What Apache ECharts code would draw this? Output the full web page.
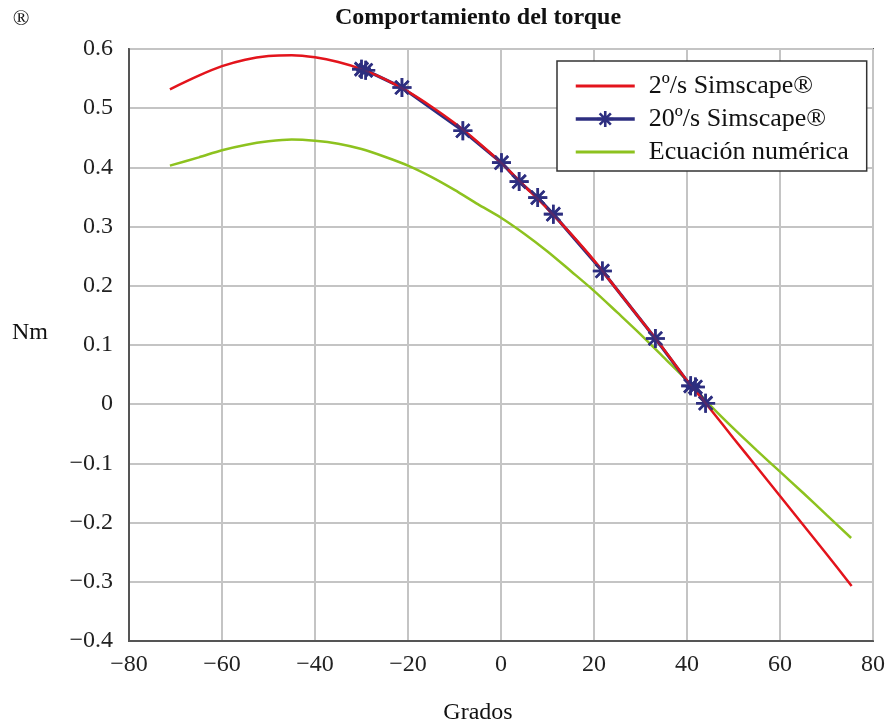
<!DOCTYPE html>
<html>
<head>
<meta charset="utf-8">
<script src="https://cdn.jsdelivr.net/npm/echarts@6/dist/echarts.min.js"></script>
<style>
html,body{margin:0;padding:0;background:#fff;}
#chart{width:888px;height:726px;}
</style>
</head>
<body>
<div id="chart"></div>
<script>
// Data
const seriesNames = ['2º/s Simscape®', '20º/s Simscape®', 'Ecuación numérica'];

const redX = [-71.2, -65, -60, -55, -50, -45, -40, -35, -30, -25, -20, -15, -10, -5, 0, 5, 10, 15, 20, 25, 30, 35, 40, 45, 50, 55, 60, 65, 70, 75.4];
const redY = [0.532, 0.555, 0.571, 0.582, 0.588, 0.5895, 0.586, 0.578, 0.566, 0.549, 0.528, 0.503, 0.475, 0.443, 0.408, 0.369, 0.330, 0.288, 0.243, 0.193, 0.143, 0.093, 0.040, -0.008, -0.0575, -0.106, -0.155, -0.204, -0.253, -0.307];

const blueX = [-30.0, -29.1, -21.3, -8.2, 0.1, 3.9, 7.9, 11.25, 21.8, 33.2, 40.8, 41.8, 44.0];
const blueY = [0.566, 0.564, 0.535, 0.462, 0.408, 0.376, 0.349, 0.321, 0.225, 0.111, 0.031, 0.029, 0.0017];

const greenX = [-71.2, -65, -60, -55, -50, -45, -40, -35, -30, -25, -20, -15, -10, -5, 0, 5, 10, 15, 20, 25, 30, 35, 40, 45, 50, 55, 60, 65, 70, 75.3];
const greenY = [0.403, 0.417, 0.429, 0.438, 0.444, 0.447, 0.445, 0.440, 0.431, 0.418, 0.403, 0.384, 0.362, 0.338, 0.315, 0.288, 0.258, 0.225, 0.1915, 0.155, 0.118, 0.079, 0.040, -0.002, -0.041, -0.078, -0.114, -0.150, -0.187, -0.226];

const xTicks = {min: -80, max: 80, interval: 20};
const yTicks = {min: -0.4, max: 0.6, interval: 0.1};

const zip = (xs, ys) => xs.map((x, i) => [x, ys[i]]);
const FONT = "'Liberation Serif', 'Times New Roman', serif";
const fmtNum = v => {
  const r = Math.round(v * 10) / 10;
  let s = Number.isInteger(v) ? String(Math.round(v)) : r.toFixed(1);
  if (Math.abs(r) < 1e-9) s = '0';
  return s.replace('-', '\u2212');
};
const star = 'path://M0,-10L0,10M-10,0L10,0M-7,-7L7,7M-7,7L7,-7M0,-10Z';
const lineIcon = 'path://M0,0L100,0L100,5L0,5Z';

const RED = '#e3141c', BLUE = '#2d2e80', GREEN = '#8dc21f';

const chart = echarts.init(document.getElementById('chart'));
chart.setOption({
  backgroundColor: '#fff',
  animation: false,
  textStyle: {fontFamily: FONT},
  grid: {left: 129, right: 11, top: 49, bottom: 85, show: true, borderColor: '#555', borderWidth: 2, backgroundColor: 'transparent'},
  xAxis: {
    type: 'value', min: xTicks.min, max: xTicks.max, interval: xTicks.interval,
    axisLine: {show: true, onZero: false, lineStyle: {color: '#555', width: 2}},
    axisTick: {show: false},
    splitLine: {show: true, lineStyle: {color: '#c4c4c4', width: 2}},
    axisLabel: {color: '#222', fontSize: 24, fontFamily: FONT, margin: 12, formatter: v => fmtNum(v)}
  },
  yAxis: {
    type: 'value', min: yTicks.min, max: yTicks.max, interval: yTicks.interval,
    axisLine: {show: true, onZero: false, lineStyle: {color: '#555', width: 2}},
    axisTick: {show: false},
    splitLine: {show: true, lineStyle: {color: '#c4c4c4', width: 2}},
    axisLabel: {color: '#222', fontSize: 24, fontFamily: FONT, margin: 16, formatter: v => fmtNum(v)}
  },
  legend: {
    data: [
      {name: seriesNames[0], icon: lineIcon},
      {name: seriesNames[1], lineStyle: {width: 3.5}, itemStyle: {borderWidth: 2.6, borderColor: BLUE}},
      {name: seriesNames[2], icon: lineIcon}
    ],
    orient: 'vertical',
    left: 557, top: 61,
    padding: [12, 18, 6, 17],
    itemWidth: 59, itemHeight: 20, itemGap: 7,
    symbolKeepAspect: true,
    backgroundColor: '#fff',
    borderColor: '#333', borderWidth: 1.5, borderRadius: 0,
    textStyle: {fontSize: 26, fontFamily: FONT, color: '#111', lineHeight: 26, padding: [0, 0, 0, 9]}
  },
  graphic: [
    {type: 'text', x: 478, y: 18, style: {text: 'Comportamiento del torque', font: 'bold 24px ' + FONT, fill: '#111', textAlign: 'center', textVerticalAlign: 'middle'}},
    {type: 'text', x: 21, y: 19, style: {text: '®', font: '22px ' + FONT, fill: '#111', textAlign: 'center', textVerticalAlign: 'middle'}},
    {type: 'text', x: 30, y: 333, style: {text: 'Nm', font: '24px ' + FONT, fill: '#111', textAlign: 'center', textVerticalAlign: 'middle'}},
    {type: 'text', x: 478, y: 713, style: {text: 'Grados', font: '24px ' + FONT, fill: '#111', textAlign: 'center', textVerticalAlign: 'middle'}}
  ],
  series: [
    {
      name: seriesNames[0], type: 'line', data: zip(redX, redY), z: 3,
      showSymbol: false, symbol: 'none', smooth: 0.3,
      lineStyle: {color: RED, width: 2.5}, itemStyle: {color: RED}
    },
    {
      name: seriesNames[1], type: 'line', data: zip(blueX, blueY), z: 2,
      symbol: star, symbolSize: 19, showSymbol: true,
      lineStyle: {color: BLUE, width: 3.2},
      itemStyle: {color: BLUE, borderColor: BLUE, borderWidth: 2.6}
    },
    {
      name: 'markers', type: 'scatter', data: zip(blueX, blueY), z: 4,
      symbol: star, symbolSize: 19,
      itemStyle: {color: BLUE, borderColor: BLUE, borderWidth: 2.6}
    },
    {
      name: seriesNames[2], type: 'line', data: zip(greenX, greenY), z: 1,
      showSymbol: false, symbol: 'none', smooth: 0.3,
      lineStyle: {color: GREEN, width: 2.5}, itemStyle: {color: GREEN}
    }
  ]
});
</script>
</body>
</html>
